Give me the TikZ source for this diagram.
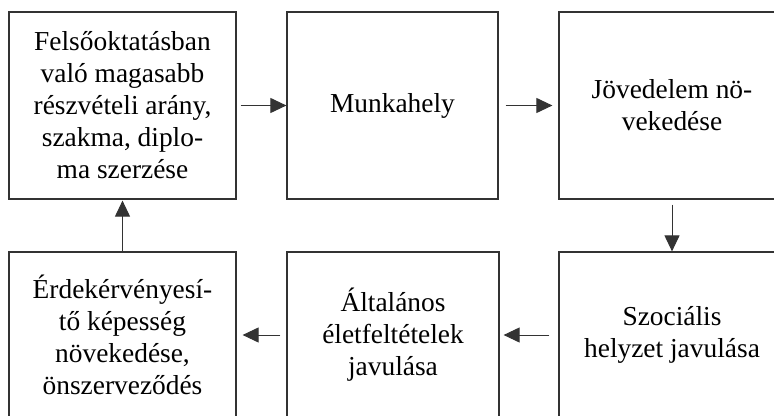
\documentclass[tikz,border=0pt]{standalone}
\usepackage{fontspec}
\setmainfont{Liberation Serif}
\usetikzlibrary{arrows.meta,positioning}
\tikzset{
  stagebox/.style={draw=black!80,line width=0.6pt,align=center,inner sep=0pt,
    minimum height=93.5pt,font=\fontsize{13.7}{16}\selectfont},
  lowbox/.style={stagebox,minimum height=83pt},
  flowarrow/.style={-{Triangle[length=8pt,width=7.5pt]},draw=black!80,line width=0.5pt}
}
\begin{document}
\begin{tikzpicture}[x=0.5pt,y=-0.5pt]
  \useasboundingbox (0,0) rectangle (774,416);
  \clip (0,0) rectangle (774,416);
  % upper row
  \node[stagebox,minimum width=113.5pt] (felso) at (122.5,105.5)
    {Felsőoktatásban\\való magasabb\\részvételi arány,\\szakma, diplo-\\ma szerzése};
  \node[stagebox,minimum width=105.5pt] (munka) at (392.5,105.5) {Munkahely};
  \node[stagebox,minimum width=113pt] (jovedelem) at (672,105.5)
    {Jövedelem nö-\\vekedése};
  % lower row
  \node[lowbox,minimum width=113.5pt] (erdek) at (122.5,335)
    {Érdekérvényesí-\\tő képesség\\növekedése,\\önszerveződés};
  \node[lowbox,minimum width=106pt] (altalanos) at (393,335)
    {Általános\\életfeltételek\\javulása};
  \node[lowbox,minimum width=113pt] (szocialis) at (672,335)
    {Szociális\\helyzet javulása};
  % cycle
  \draw[flowarrow,shorten <=2pt] (felso.east) -- (munka.west);
  \draw[flowarrow,shorten <=3.5pt,shorten >=3pt] (munka.east) -- (jovedelem.west);
  \draw[flowarrow,shorten <=2.5pt] (jovedelem.south) -- (szocialis.north);
  \draw[flowarrow,shorten <=4.5pt,shorten >=2pt] (szocialis.west) -- (altalanos.east);
  \draw[flowarrow,shorten <=3pt,shorten >=3pt] (altalanos.west) -- (erdek.east);
  \draw[flowarrow,shorten >=0.5pt] (erdek.north) -- (felso.south);
\end{tikzpicture}
\end{document}
